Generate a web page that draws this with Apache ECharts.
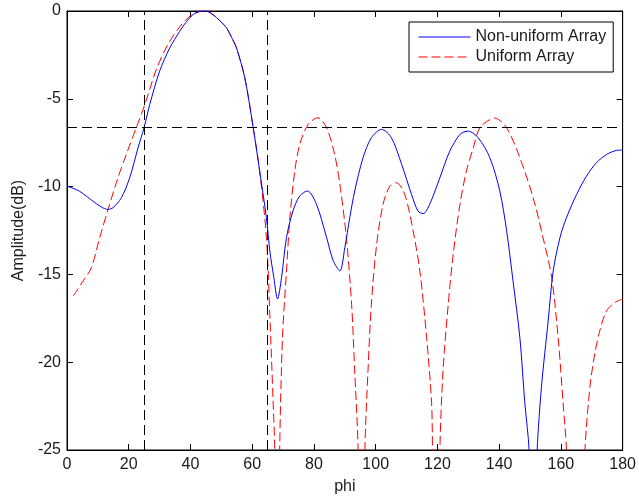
<!DOCTYPE html>
<html>
<head>
<meta charset="utf-8">
<script src="https://cdn.jsdelivr.net/npm/echarts@6/dist/echarts.min.js"></script>
<style>
html,body{margin:0;padding:0;background:#fff;}
#chart{width:639px;height:500px;}
</style>
</head>
<body>
<div id="chart"></div>
<script>
// Non-uniform array pattern (phi, dB)
const blueX = [0, 4, 8.4, 11, 13.3, 14.9, 17.6, 20.3, 23, 25, 26.8, 30, 33.3, 36.5, 38.5, 40.8, 43, 45, 47.3, 49.5, 51.7, 53.3, 54.9, 57.6, 60.3, 62.4, 64.6, 65.7, 67, 68.2, 69.5, 71.1, 73.2, 75.4, 77.9, 80.8, 84.1, 86.2, 88.4, 90, 91.6, 93.2, 95.9, 98.6, 101.9, 105.1, 108.4, 111.6, 113.7, 115.4, 117.5, 120.8, 124, 127.3, 129.9, 133.2, 137, 140.2, 142.4, 144.5, 146.7, 148.3, 149.7, 151, 152.3, 153.7, 155.9, 157.5, 159.7, 161.8, 165.1, 168.3, 171.5, 174.8, 178, 180];
const blueY = [-9.97, -10.26, -10.83, -11.15, -11.3, -11.2, -10.64, -9.5, -7.8, -6.62, -5.33, -3.43, -2.1, -1.16, -0.65, -0.21, -0.03, 0, -0.21, -0.55, -0.97, -1.5, -2.1, -3.81, -6.62, -9.1, -11.77, -13.66, -15.17, -16.4, -15.17, -12.9, -11.39, -10.53, -10.25, -11.0, -12.9, -14.2, -14.8, -13.47, -11.77, -10.25, -8.36, -7.22, -6.74, -7.22, -8.73, -10.44, -11.39, -11.54, -11.0, -9.49, -7.98, -7.03, -6.84, -7.22, -8.36, -10.25, -12.5, -15.4, -18.6, -22.3, -25, -32, -25, -21.4, -17.6, -14.8, -12.9, -11.77, -10.44, -9.4, -8.64, -8.17, -7.94, -7.92];

// Uniform array pattern (phi, dB)
const redX = [2, 5.2, 7.9, 10.6, 13.3, 16.5, 19.2, 22.5, 25.2, 29, 32.7, 36.5, 38.5, 40.8, 43, 45, 47.3, 49.5, 51.7, 53.3, 54.9, 57.6, 60.3, 62.4, 64.6, 65.7, 66.8, 67.3, 68.1, 68.9, 69.8, 71.1, 72.2, 73.8, 75.4, 78.1, 81.3, 84.1, 86.7, 88.4, 90.5, 92.2, 93.2, 94.3, 95.4, 96.5, 97.5, 98.6, 100.3, 102.4, 104.6, 106.7, 109.4, 112.1, 114.3, 116.5, 118.1, 118.4, 119.6, 120.8, 121.8, 123.5, 125.1, 127.3, 129.4, 131.6, 133.7, 137, 138.6, 142.4, 146.7, 151, 154.2, 157, 159.1, 160.7, 161.8, 164.8, 167.8, 169.4, 171, 172.6, 174.8, 177.5, 180];
const redY = [-16.23, -15.38, -14.62, -12.9, -11.3, -9.5, -8.17, -6.62, -5.33, -3.3, -1.9, -0.9, -0.5, -0.18, -0.03, 0, -0.21, -0.55, -0.97, -1.5, -2.1, -3.81, -6.62, -9.1, -12.9, -17.3, -22.4, -25, -40, -25, -18.6, -14.8, -11.77, -9.1, -7.6, -6.46, -6.08, -6.65, -8.17, -9.87, -12.9, -16.7, -20.5, -25, -40, -25, -20.5, -16.7, -13.3, -11.0, -9.97, -9.78, -10.44, -12.5, -14.8, -18.6, -22.3, -25, -40, -25, -20.5, -16.7, -13.85, -11.0, -9.1, -7.8, -6.65, -6.18, -6.1, -6.65, -8.36, -10.63, -12.9, -15.17, -18.6, -22.3, -25, -40, -25, -21.4, -19.5, -18.2, -17.07, -16.6, -16.4];

// Reference lines
const refX = [25, 65];
const refY = [-6.6];

// Axes
const xMin = 0, xMax = 180, xStep = 20;
const yMin = -25, yMax = 0, yStep = 5;

const seriesNames = ['Non-uniform Array', 'Uniform Array'];

const FONT = '"Liberation Sans", Arial, Helvetica, sans-serif';
const TXT = '#1a1a1a';

const chart = echarts.init(document.getElementById('chart'), null, {renderer: 'canvas'});

const markData = refX.map(v => ({xAxis: v})).concat(refY.map(v => ({yAxis: v})));

const option = {
  animation: false,
  backgroundColor: '#fff',
  grid: {left: 67, right: 15, top: 11, bottom: 49, show: true, borderColor: '#000', borderWidth: 1, backgroundColor: 'transparent'},
  legend: {
    left: 409, top: 22,
    orient: 'vertical',
    backgroundColor: '#fff',
    borderColor: '#000', borderWidth: 1, borderRadius: 0,
    padding: [7, 7, 7, 9],
    itemGap: 4,
    itemWidth: 52, itemHeight: 16,
    itemStyle: {opacity: 0},
    lineStyle: {width: 1},
    textStyle: {fontFamily: FONT, fontSize: 16, color: TXT},
    data: seriesNames
  },
  xAxis: [{
    type: 'value', min: xMin, max: xMax, interval: xStep,
    name: 'phi', nameLocation: 'middle', nameGap: 29,
    nameTextStyle: {fontFamily: FONT, fontSize: 16, color: TXT},
    axisLine: {show: true, onZero: false, lineStyle: {color: '#000', width: 1}},
    axisTick: {show: true, inside: true, length: 6, lineStyle: {color: '#000'}},
    axisLabel: {fontFamily: FONT, fontSize: 16, color: TXT, margin: 7},
    splitLine: {show: false}
  }, {
    type: 'value', position: 'top', min: xMin, max: xMax, interval: xStep,
    axisLine: {show: true, onZero: false, lineStyle: {color: '#000', width: 1}},
    axisTick: {show: true, inside: true, length: 6, lineStyle: {color: '#000'}},
    axisLabel: {show: false}, splitLine: {show: false}
  }],
  yAxis: [{
    type: 'value', min: yMin, max: yMax, interval: yStep,
    name: 'Amplitude(dB)', nameLocation: 'middle', nameGap: 33,
    nameTextStyle: {fontFamily: FONT, fontSize: 16, color: TXT},
    axisLine: {show: true, onZero: false, lineStyle: {color: '#000', width: 1}},
    axisTick: {show: true, inside: true, length: 6, lineStyle: {color: '#000'}},
    axisLabel: {fontFamily: FONT, fontSize: 16, color: TXT, margin: 6},
    splitLine: {show: false}
  }, {
    type: 'value', position: 'right', min: yMin, max: yMax, interval: yStep,
    axisLine: {show: true, onZero: false, lineStyle: {color: '#000', width: 1}},
    axisTick: {show: true, inside: true, length: 6, lineStyle: {color: '#000'}},
    axisLabel: {show: false}, splitLine: {show: false}
  }],
  series: [{
    name: seriesNames[0], type: 'line', symbol: 'none', clip: true, smooth: 0.3,
    data: blueX.map((x, i) => [x, blueY[i]]),
    lineStyle: {color: '#0000ff', width: 1},
    itemStyle: {color: '#0000ff'},
    markLine: {
      silent: true, symbol: ['none', 'none'],
      label: {show: false},
      lineStyle: {color: '#000', width: 1, type: [10, 5]},
      emphasis: {disabled: true},
      data: markData
    },
    z: 3
  }, {
    name: seriesNames[1], type: 'line', symbol: 'none', clip: true, smooth: 0.3,
    data: redX.map((x, i) => [x, redY[i]]),
    lineStyle: {color: '#ff0000', width: 1, type: [9, 4]},
    itemStyle: {color: '#ff0000'},
    z: 2
  }]
};
chart.setOption(option);
</script>
</body>
</html>
